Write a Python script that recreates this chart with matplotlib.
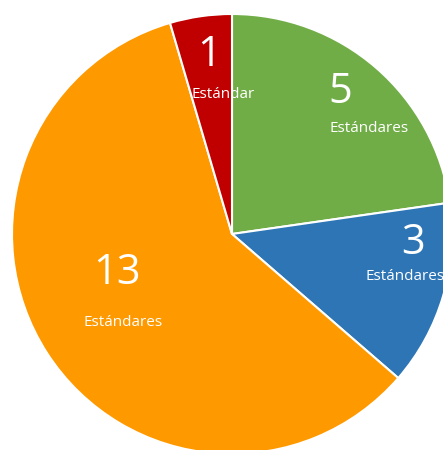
import matplotlib
matplotlib.use("Agg")
import matplotlib.pyplot as plt

values = [5, 3, 13, 1]
colors = ["#70AD47", "#2E75B6", "#FF9900", "#C00000"]
numbers = ["5", "3", "13", "1"]
words = ["Estándares", "Estándares", "Estándares", "Estándar"]

# label positions (pixel coords in the 443x450 canvas), number then word
num_pos = [(340, 92), (413, 243), (117, 273), (209, 55)]
word_pos = [(369, 128), (405, 277), (123, 323), (223, 94)]

cx, cy, r = 232, 234, 220
W, H = 443, 450

fig = plt.figure(figsize=(W / 100, H / 100), dpi=100)
ax = fig.add_axes([0, 0, 1, 1])
ax.set_aspect("equal")
ax.axis("off")

ax.pie(values, colors=colors, startangle=90, counterclock=False, radius=r,
       center=(0, 0), frame=False,
       wedgeprops=dict(edgecolor="white", linewidth=1.5))
ax.set_xlim(-cx, W - cx)
ax.set_ylim(-(H - cy), cy)

fam = ["Open Sans", "DejaVu Sans"]
for n, (px, py) in zip(numbers, num_pos):
    ax.text(px - cx, cy - py, n, ha="center", va="center", color="white",
            fontsize=30, family=fam)
for w, (px, py) in zip(words, word_pos):
    ax.text(px - cx, cy - py, w, ha="center", va="center", color="white",
            fontsize=11, family=fam)

fig.savefig("out.png", dpi=100)
